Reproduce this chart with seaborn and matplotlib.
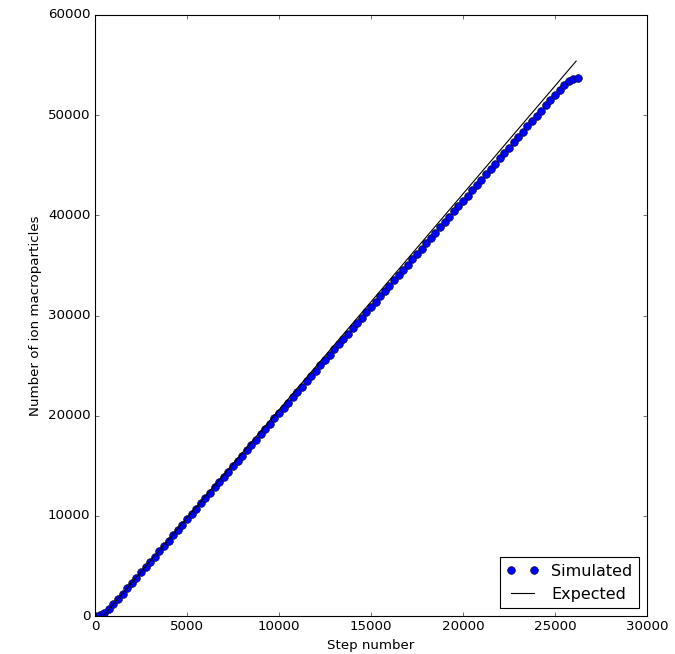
import matplotlib
matplotlib.use("Agg")
import matplotlib.pyplot as plt
import seaborn as sns
import pandas as pd

# Simulated number of ion macroparticles, sampled every 250 steps
steps = [
    0, 250, 500, 750, 1000, 1250, 1500, 1750, 2000, 2250, 2500, 2750,
    3000, 3250, 3500, 3750, 4000, 4250, 4500, 4750, 5000, 5250, 5500, 5750,
    6000, 6250, 6500, 6750, 7000, 7250, 7500, 7750, 8000, 8250, 8500, 8750,
    9000, 9250, 9500, 9750, 10000, 10250, 10500, 10750, 11000, 11250, 11500, 11750,
    12000, 12250, 12500, 12750, 13000, 13250, 13500, 13750, 14000, 14250, 14500, 14750,
    15000, 15250, 15500, 15750, 16000, 16250, 16500, 16750, 17000, 17250, 17500, 17750,
    18000, 18250, 18500, 18750, 19000, 19250, 19500, 19750, 20000, 20250, 20500, 20750,
    21000, 21250, 21500, 21750, 22000, 22250, 22500, 22750, 23000, 23250, 23500, 23750,
    24000, 24250, 24500, 24750, 25000, 25250, 25500, 25750, 26000, 26250,
]
simulated = [
    0, 60, 250, 650, 1170, 1700, 2230, 2760, 3290, 3820, 4350, 4880,
    5410, 5940, 6470, 7000, 7530, 8060, 8590, 9120, 9650, 10180, 10710, 11240,
    11770, 12300, 12830, 13360, 13890, 14420, 14950, 15480, 16010, 16540, 17070, 17600,
    18130, 18660, 19190, 19720, 20250, 20780, 21310, 21840, 22370, 22900, 23430, 23960,
    24490, 25020, 25550, 26080, 26610, 27140, 27670, 28200, 28730, 29260, 29790, 30320,
    30850, 31380, 31910, 32440, 32970, 33500, 34030, 34560, 35090, 35620, 36150, 36680,
    37210, 37740, 38270, 38800, 39330, 39860, 40390, 40920, 41450, 41980, 42510, 43040,
    43570, 44100, 44630, 45160, 45690, 46220, 46750, 47280, 47810, 48340, 48870, 49400,
    49930, 50460, 50990, 51520, 52050, 52500, 53000, 53400, 53650, 53700,
]

# Expected (theoretical) injection line
expected_steps = [450, 26150]
expected = [0, 55400]

x_ticks = [0, 5000, 10000, 15000, 20000, 25000, 30000]
y_ticks = [0, 10000, 20000, 30000, 40000, 50000, 60000]

plt.style.use("classic")
plt.rcParams["font.family"] = ["DejaVu Sans"]

sim_df = pd.DataFrame({"step": steps, "count": simulated})
exp_df = pd.DataFrame({"step": expected_steps, "count": expected})

fig = plt.figure(figsize=(675 / 80, 654 / 80), dpi=80, facecolor="white")
ax = fig.add_axes([95 / 675, 38 / 654, 552 / 675, 601 / 654])
ax.set_facecolor("white")

sns.lineplot(data=sim_df, x="step", y="count", ax=ax, marker="o", linestyle="",
             color="blue", markersize=7, markeredgecolor="black",
             markeredgewidth=0.5, label="Simulated", sort=False)
sns.lineplot(data=exp_df, x="step", y="count", ax=ax, color="black",
             linewidth=1.0, label="Expected", sort=False)

ax.set_xlim(0, 30000)
ax.set_ylim(0, 60000)
ax.set_xticks(x_ticks)
ax.set_yticks(y_ticks)
ax.tick_params(direction="in", top=True, right=True, labelsize=12)
ax.set_xlabel("Step number", fontsize=12)
ax.set_ylabel("Number of ion macroparticles", fontsize=12)

leg = ax.legend(loc="lower right", numpoints=2, fontsize=14.4, fancybox=False,
                frameon=True)
leg.get_frame().set_edgecolor("black")

fig.savefig("out.png", dpi=80, facecolor="white")
